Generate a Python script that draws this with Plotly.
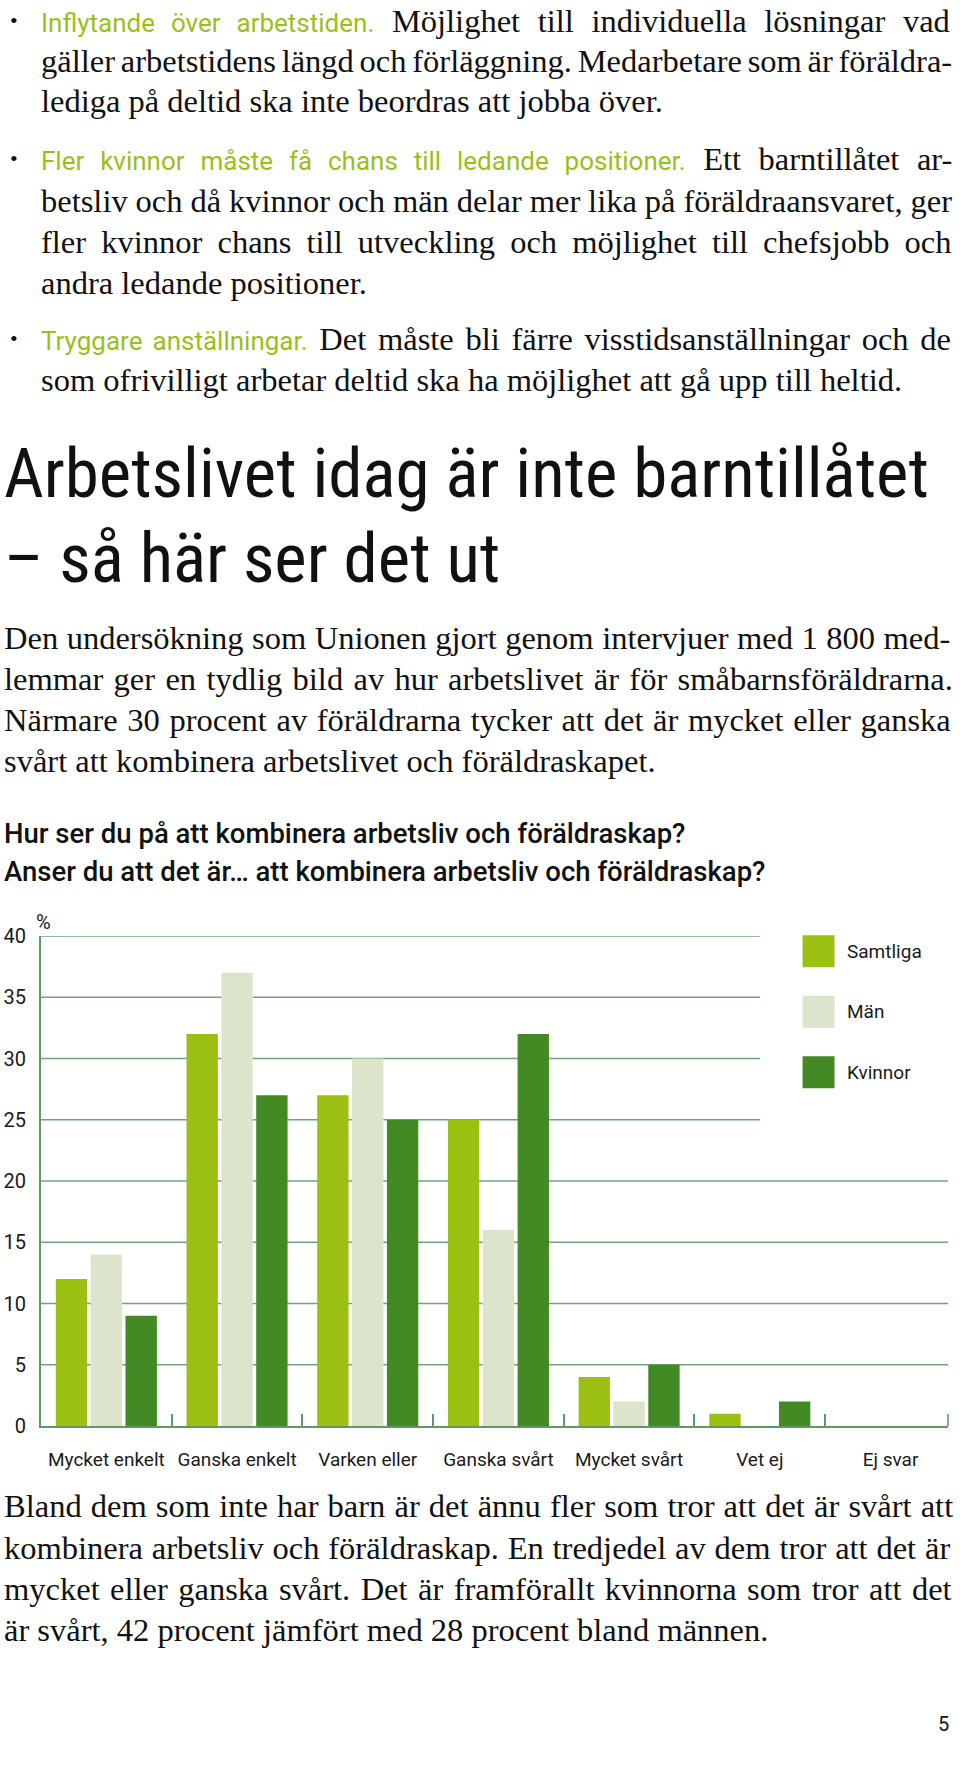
import plotly.graph_objects as go

# ---------------- data ----------------
categories = ["Mycket enkelt", "Ganska enkelt", "Varken eller", "Ganska svårt",
              "Mycket svårt", "Vet ej", "Ej svar"]
series_names = ["Samtliga", "Män", "Kvinnor"]
samtliga = [12, 32, 27, 25, 4, 1, 0]
man = [14, 37, 30, 16, 2, 0, 0]
kvinnor = [9, 27, 25, 32, 5, 2, 0]
y_ticks = [0, 5, 10, 15, 20, 25, 30, 35, 40]

colors = ["#9BC012", "#DCE5CB", "#438A25"]
GRID = "#72A37B"
AXIS = "#5E9A66"
GREEN_TXT = "#9BBF1A"

# ---------------- page geometry ----------------
W, H = 960, 1766
L, R = 41, 947.7
T, B = 935.7, 1426
PW, PH = R - L, B - T


def xp(px):
    return (px - L) / PW


def yp(py):
    return (B - py) / PH


fig = go.Figure()
for name, vals, col in zip(series_names, [samtliga, man, kvinnor], colors):
    fig.add_trace(go.Bar(x=categories, y=vals, name=name, marker_color=col,
                         marker_line_width=0, showlegend=False))

shapes = []
# gridlines (shortened where the legend sits)
for v in y_ticks[1:]:
    x_end = xp(760) if v >= 25 else 1
    shapes.append(dict(type="line", xref="paper", yref="y", x0=0, x1=x_end,
                       y0=v, y1=v, line=dict(color=GRID, width=1.6), layer="below"))
# end tick at the right end of the x axis
shapes.append(dict(type="line", xref="paper", yref="paper", x0=1, x1=1,
                   y0=0, y1=12 / PH, line=dict(color=AXIS, width=1.6)))

annotations = []
# legend
for i, (name, col) in enumerate(zip(series_names, colors)):
    cy = 951 + i * 60.5
    shapes.append(dict(type="rect", xref="paper", yref="paper",
                       x0=xp(802.3), x1=xp(834.3), y0=yp(cy + 16), y1=yp(cy - 16),
                       fillcolor=col, line_width=0))
    annotations.append(dict(text=name, x=xp(845), y=yp(cy), xref="paper", yref="paper",
                            xanchor="left", yanchor="middle", showarrow=False,
                            font=dict(family="Roboto", size=19, color="#1a1a1a")))

# % label
annotations.append(dict(text="%", x=xp(43), y=yp(922), xref="paper", yref="paper",
                        xanchor="center", yanchor="middle", showarrow=False,
                        font=dict(family="Roboto", size=20, color="#1a1a1a")))

SERIF = "Liberation Serif"
SANS = "Roboto"
NARROW = "Liberation Sans Narrow, Arial Narrow, Roboto Condensed, sans-serif"
BODY = 32.5


def line(text, x, y, size=BODY, family=SERIF, color="#111111", weight="normal",
         anchor="left", ws=0.0):
    if ws:
        text = f"<span style='word-spacing:{ws:.1f}px'>{text}</span>"
    annotations.append(dict(text=text, x=xp(x), y=yp(y), xref="paper", yref="paper",
                            xanchor=anchor, yanchor="middle", showarrow=False,
                            font=dict(family=family, size=size, color=color, weight=weight)))


def green(t):
    return (f"<span style='font-family:Roboto;fill:{GREEN_TXT};font-size:26px'>{t}</span>")


bullet_x, text_x = 8, 39
# (text, y centre, bullet, word spacing used to imitate the justified setting)
body_top = [
    (green("Inflytande över arbetstiden.") + " Möjlighet till individuella lösningar vad", 20, True, 9.5),
    ("gäller arbetstidens längd och förläggning. Medarbetare som är föräldra-", 60, False, -2.4),
    ("lediga på deltid ska inte beordras att jobba över.", 100, False, 0),
    (green("Fler kvinnor måste få chans till ledande positioner.") + " Ett barntillåtet ar-", 158, True, 9.4),
    ("betsliv och då kvinnor och män delar mer lika på föräldraansvaret, ger", 200, False, -0.2),
    ("fler kvinnor chans till utveckling och möjlighet till chefsjobb och", 241, False, 7.0),
    ("andra ledande positioner.", 282, False, 0),
    (green("Tryggare anställningar.") + " Det måste bli färre visstidsanställningar och de", 338, True, 3.6),
    ("som ofrivilligt arbetar deltid ska ha möjlighet att gå upp till heltid.", 379, False, 0),
]
for txt, y, bul, ws in body_top:
    if bul:
        line("•", bullet_x, y, size=22)
    line(txt, text_x, y, ws=ws)

line("Arbetslivet idag är inte barntillåtet", 2, 473, size=69, family=NARROW)
line("– så här ser det ut", 2, 558, size=69, family=NARROW)

para2 = [("Den undersökning som Unionen gjort genom intervjuer med 1 800 med-", 0.4),
         ("lemmar ger en tydlig bild av hur arbetslivet är för småbarnsföräldrarna.", 2.2),
         ("Närmare 30 procent av föräldrarna tycker att det är mycket eller ganska", 1.5),
         ("svårt att kombinera arbetslivet och föräldraskapet.", 0)]
for i, (t, ws) in enumerate(para2):
    line(t, 2, 638 + i * 40.8, ws=ws)

line("Hur ser du på att kombinera arbetsliv och föräldraskap?", 2, 833, size=27.5, family=SANS, weight=500)
line("Anser du att det är… att kombinera arbetsliv och föräldraskap?", 2, 871, size=27.5, family=SANS, weight=500)

para3 = [("Bland dem som inte har barn är det ännu fler som tror att det är svårt att", 1.0),
         ("kombinera arbetsliv och föräldraskap. En tredjedel av dem tror att det är", 0.7),
         ("mycket eller ganska svårt. Det är framförallt kvinnorna som tror att det", 2.3),
         ("är svårt, 42 procent jämfört med 28 procent bland männen.", 0)]
for i, (t, ws) in enumerate(para3):
    line(t, 2, 1506.5 + i * 41.3, ws=ws)

line("5", 951, 1724, size=20, family=SANS, anchor="right")

fig.update_layout(
    width=W, height=H,
    margin=dict(l=L, r=W - R, t=T, b=H - B, pad=0, autoexpand=False),
    paper_bgcolor="white", plot_bgcolor="white",
    barmode="group", bargap=0.2, bargroupgap=0.1,
    shapes=shapes, annotations=annotations,
    showlegend=False,
    xaxis=dict(range=[-0.5, 6.44], showgrid=False, showline=True, linecolor=AXIS,
               linewidth=2, ticks="inside", tickson="boundaries", ticklen=12,
               tickcolor=AXIS, tickwidth=1.6, ticklabelstandoff=15, automargin=False,
               tickangle=0,
               tickfont=dict(family="Roboto", size=19, color="#1a1a1a"), fixedrange=True),
    yaxis=dict(range=[0, 40], tickvals=y_ticks, showgrid=False, zeroline=False,
               showline=True, linecolor=AXIS, linewidth=2, ticks="",
               ticklabelstandoff=9, automargin=False,
               tickfont=dict(family="Roboto", size=20, color="#1a1a1a"), fixedrange=True),
)

fig.write_html("out.html")
